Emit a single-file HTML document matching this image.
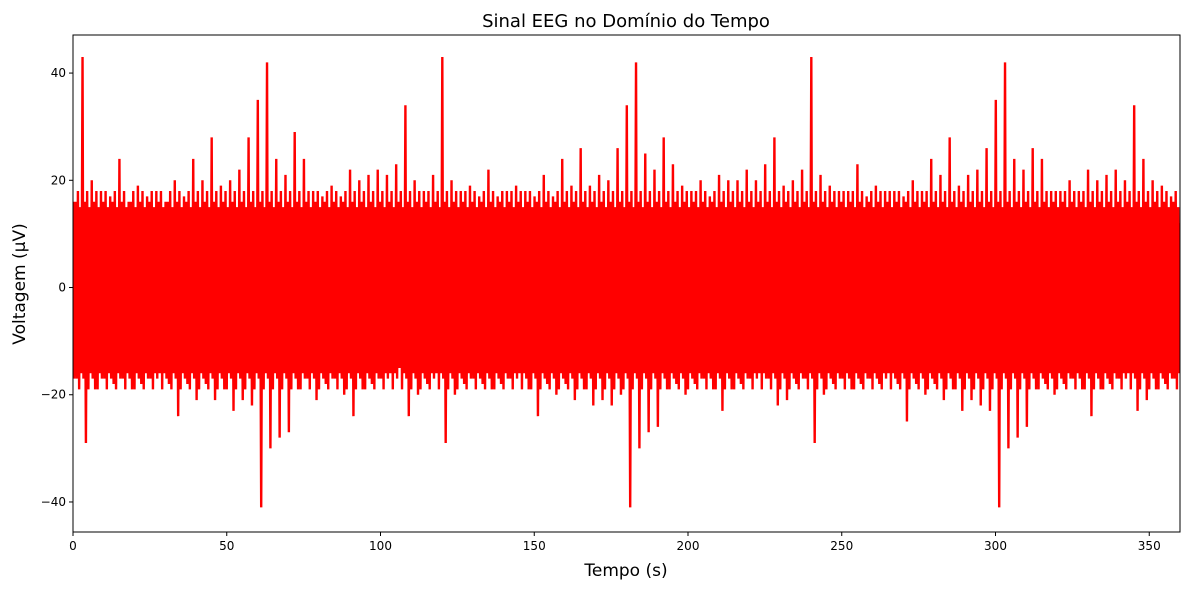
<!DOCTYPE html>
<html><head><meta charset="utf-8"><style>
body{margin:0;background:#fff;font-family:"Liberation Sans","DejaVu Sans",sans-serif}
svg text{font-family:"DejaVu Sans","Liberation Sans",sans-serif}
</style></head><body>
<svg id="chart" width="1189" height="590" viewBox="0 0 1189 590" xmlns="http://www.w3.org/2000/svg">
<rect width="1189" height="590" fill="#fff"/>
<text x="626" y="27" font-size="18" text-anchor="middle">Sinal EEG no Domínio do Tempo</text>
<g id="plot"></g>
<text x="626" y="576" font-size="17" text-anchor="middle">Tempo (s)</text>
<text x="25" y="284" font-size="17" text-anchor="middle" transform="rotate(-90 25 284)">Voltagem (µV)</text>
</svg>
<script>
const binTimes = Array.from({length:120},(_, i)=>i*3+1.5);
const upper = [16,43,20,18,17,24,16,19,17,18,16,20,17,24,20,28,19,20,22,28,35,42,24,21,29,24,18,17,19,17,22,20,21,22,21,23,34,20,18,21,
43,20,18,19,17,22,17,18,19,18,17,21,17,24,19,26,19,21,20,26,34,42,25,22,28,23,19,18,20,17,21,20,20,22,20,23,28,19,20,22,
43,21,19,18,18,23,17,19,18,18,17,20,18,24,21,28,19,21,22,26,35,42,24,22,26,24,18,18,20,18,22,20,21,22,20,34,24,20,19,17];
const lower = [-17,-29,-19,-17,-18,-17,-19,-18,-17,-16,-18,-24,-18,-21,-18,-21,-19,-23,-21,-22,-41,-30,-28,-27,-19,-17,-21,-18,-17,-20,-24,-19,-18,-17,-16,-15,-24,-20,-18,-16,
-29,-20,-18,-17,-18,-19,-18,-17,-16,-19,-24,-18,-20,-18,-21,-19,-22,-21,-22,-20,-41,-30,-27,-26,-19,-18,-20,-18,-17,-19,-23,-19,-18,-17,-16,-17,-22,-21,-18,-17,
-29,-20,-18,-17,-19,-18,-17,-18,-16,-18,-25,-18,-20,-18,-21,-19,-23,-21,-22,-23,-41,-30,-28,-26,-19,-18,-20,-18,-17,-19,-24,-19,-18,-17,-16,-23,-21,-19,-18,-17];
const coreTop = 12, coreBottom = -13;
const xTicks = [0,50,100,150,200,250,300,350];
const yTicks = [-40,-20,0,20,40];

const L=73,R=1180,T=35,B=532;
const xMin=0,xMax=360,yMin=-45.6,yMax=47.1;
const xs=v=>L+(v-xMin)/(xMax-xMin)*(R-L);
const ys=v=>B-(v-yMin)/(yMax-yMin)*(B-T);
const NS="http://www.w3.org/2000/svg";
const g=document.getElementById('plot');
function mk(t,a){const e=document.createElementNS(NS,t);for(const k in a)e.setAttribute(k,a[k]);return e;}
const defs=mk('defs',{});const cp=mk('clipPath',{id:'clip'});cp.appendChild(mk('rect',{x:L,y:T,width:R-L,height:B-T}));defs.appendChild(cp);g.appendChild(defs);
const sg=mk('g',{'clip-path':'url(#clip)'});
const core=mk('rect',{x:xs(0),y:ys(coreTop),width:xs(360)-xs(0),height:ys(coreBottom)-ys(coreTop),fill:'#ff0000'});


sg.appendChild(core);
let pts=[];
const hi=coreTop+4, lo=coreBottom-4;
binTimes.forEach((t,i)=>{
  pts.push(xs(t-1.4)+','+ys(upper[i]));
  pts.push(xs(t-1.1)+','+ys(lo));
  pts.push(xs(t-0.7)+','+ys(hi));
  pts.push(xs(t-0.3)+','+ys(lower[i]));
  pts.push(xs(t+0.1)+','+ys(hi+2));
  pts.push(xs(t+0.5)+','+ys(lo-2));
  pts.push(xs(t+0.9)+','+ys(hi-1));
  pts.push(xs(t+1.2)+','+ys(lo+1));
});
const line=mk('polyline',{points:pts.join(' '),fill:'none',stroke:'#ff0000','stroke-width':2.4,'stroke-linejoin':'miter'});


sg.appendChild(line);
g.appendChild(sg);
const frame=mk('rect',{x:L,y:T,width:R-L,height:B-T,fill:'none',stroke:'#000','stroke-width':1});


g.appendChild(frame);
xTicks.forEach(v=>{const x=xs(v);
const tk=mk('line',{x1:x,x2:x,y1:B,y2:B+4,stroke:'#000'});


g.appendChild(tk);
const tx=mk('text',{x:x,y:B+18,'font-size':12,'text-anchor':'middle'});tx.textContent=v;


g.appendChild(tx);});
yTicks.forEach(v=>{const y=ys(v);
const tk=mk('line',{x1:L-4,x2:L,y1:y,y2:y,stroke:'#000'});


g.appendChild(tk);
const tx=mk('text',{x:L-7,y:y+4,'font-size':12,'text-anchor':'end'});tx.textContent=v<0?'\u2212'+(-v):v;


g.appendChild(tx);});
</script>
</body></html>
